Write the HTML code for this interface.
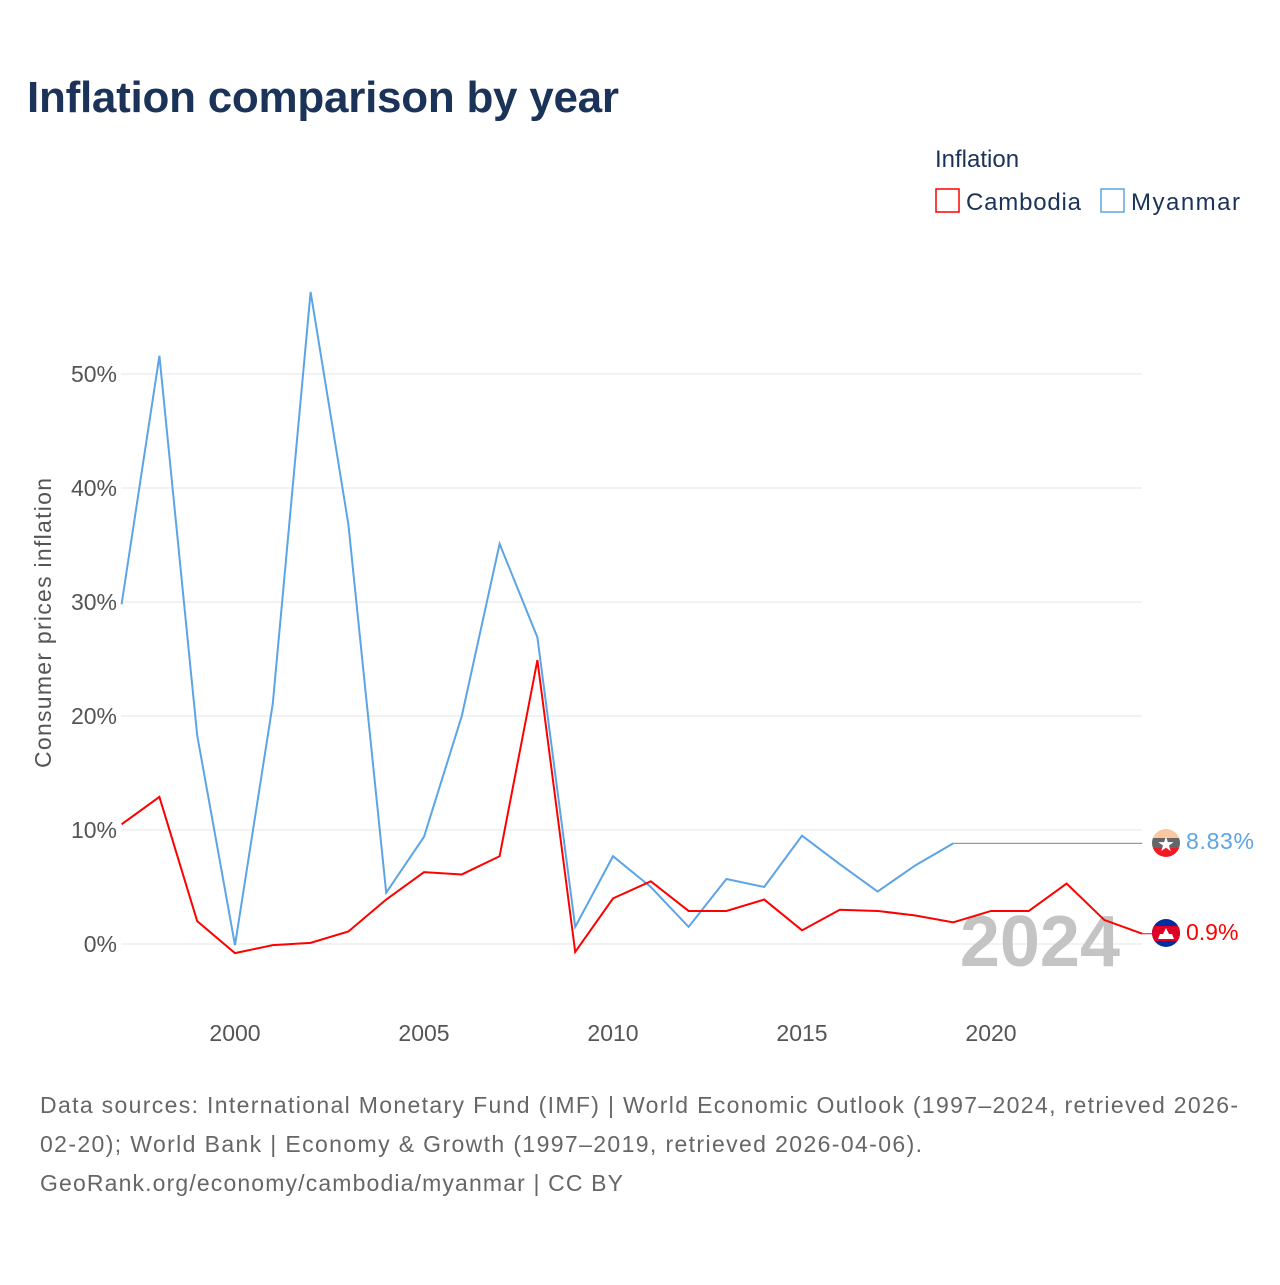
<!DOCTYPE html>
<html><head><meta charset="utf-8"><style>
body{margin:0;background:#fff;font-family:"Liberation Sans",sans-serif}
svg text{font-family:"Liberation Sans",sans-serif}
</style></head><body>
<svg id="chart" width="1280" height="1280" viewBox="0 0 1280 1280">
<text x="27" y="112" font-size="44" font-weight="bold" fill="#1b3358" textLength="592">Inflation comparison by year</text>
<text x="935" y="167" font-size="24" fill="#1b3358">Inflation</text>
<g><rect x="936" y="189" width="23" height="23" fill="none" stroke="#ff0000" stroke-width="1.5"/><text x="966" y="210" font-size="24" fill="#1b3358" textLength="115">Cambodia</text></g>
<g><rect x="1101" y="189" width="23" height="23" fill="none" stroke="#5ba4e6" stroke-width="1.5"/><text x="1131" y="210" font-size="24" fill="#1b3358" textLength="109">Myanmar</text></g>
<g id="grid"></g><g id="yt"></g><g id="xt"></g>
<text transform="translate(51,623) rotate(-90)" text-anchor="middle" font-size="23" fill="#555" textLength="290">Consumer prices inflation</text>
<text x="1120" y="966" text-anchor="end" font-size="72" font-weight="bold" fill="#c4c4c4">2024</text>
<g id="series"></g>
<g>
<clipPath id="c1"><circle cx="1166" cy="843" r="14"/></clipPath>
<g clip-path="url(#c1)"><rect x="1150" y="828" width="32" height="10" fill="#fbc7a0"/><rect x="1150" y="838" width="32" height="10" fill="#666"/><rect x="1150" y="848" width="32" height="10" fill="#ee1c25"/></g>
<text x="1166" y="851" text-anchor="middle" font-size="20" fill="#fff">★</text></g>
<g>
<clipPath id="c2"><circle cx="1166" cy="933" r="14"/></clipPath>
<g clip-path="url(#c2)"><rect x="1150" y="918" width="32" height="32" fill="#032ea1"/><rect x="1150" y="926" width="32" height="15" fill="#e00025"/><path d="M1158 939 L1174 939 L1172 934 L1169 934 L1166 928 L1163 934 L1160 934Z" fill="#fff"/></g></g>
<text x="1186" y="849" font-size="23" fill="#5ba4e6" textLength="68">8.83%</text>
<text x="1186" y="940" font-size="23" fill="#ff0000">0.9%</text>
<text font-size="23" fill="#666"><tspan x="40" y="1113" textLength="1198">Data sources: International Monetary Fund (IMF) | World Economic Outlook (1997–2024, retrieved 2026-</tspan><tspan x="40" y="1152" textLength="882">02-20); World Bank | Economy &amp; Growth (1997–2019, retrieved 2026-04-06).</tspan><tspan x="40" y="1191" textLength="583">GeoRank.org/economy/cambodia/myanmar | CC BY</tspan></text>
</svg>
<script>
const years=[1997,1998,1999,2000,2001,2002,2003,2004,2005,2006,2007,2008,2009,2010,2011,2012,2013,2014,2015,2016,2017,2018,2019,2020,2021,2022,2023,2024];
const cambodia=[10.5,12.9,2.0,-0.8,-0.1,0.1,1.1,3.9,6.3,6.1,7.7,24.9,-0.7,4.0,5.5,2.9,2.9,3.9,1.2,3.0,2.9,2.5,1.9,2.9,2.9,5.3,2.1,0.9];
const myanmarYears=[1997,1998,1999,2000,2001,2002,2003,2004,2005,2006,2007,2008,2009,2010,2011,2012,2013,2014,2015,2016,2017,2018,2019];
const myanmar=[29.8,51.6,18.3,-0.1,21.1,57.2,36.8,4.5,9.4,20.0,35.1,26.9,1.5,7.7,5.0,1.5,5.7,5.0,9.5,7.0,4.6,6.9,8.83];
const yTicks=[0,10,20,30,40,50];
const xTicks=[2000,2005,2010,2015,2020];
const NS="http://www.w3.org/2000/svg";
const x=v=>121.6+(v-1997)*37.8;
const y=v=>944-v*11.4;
function mk(tag,attrs,parent){const e=document.createElementNS(NS,tag);for(const k in attrs)e.setAttribute(k,attrs[k]);document.getElementById(parent).appendChild(e);return e;}
yTicks.forEach(t=>{
const l=mk('line',{x1:121,x2:1142,y1:y(t),y2:y(t),stroke:'#e6e6e6','stroke-width':1},'grid');


const tx=mk('text',{x:117,y:y(t)+8,'text-anchor':'end','font-size':23,fill:'#555'},'yt');
tx.textContent=t+'%';


});
xTicks.forEach(t=>{
const tx=mk('text',{x:x(t),y:1041,'text-anchor':'middle','font-size':23,fill:'#555'},'xt');
tx.textContent=t;


});
const last=myanmar[myanmar.length-1];
const ext=mk('line',{x1:x(myanmarYears[myanmarYears.length-1]),x2:x(years[years.length-1]),y1:y(last),y2:y(last),stroke:'#999','stroke-width':1.2},'series');


const c1=mk('line',{x1:x(2024),x2:1152,y1:y(cambodia[cambodia.length-1]),y2:y(cambodia[cambodia.length-1]),stroke:'#ff0000','stroke-width':1},'series');


const pm=mk('polyline',{points:myanmarYears.map((yr,i)=>x(yr)+','+y(myanmar[i])).join(' '),fill:'none',stroke:'#5ba4e6','stroke-width':2},'series');


const pc=mk('polyline',{points:years.map((yr,i)=>x(yr)+','+y(cambodia[i])).join(' '),fill:'none',stroke:'#ff0000','stroke-width':2},'series');


</script>
</body></html>
